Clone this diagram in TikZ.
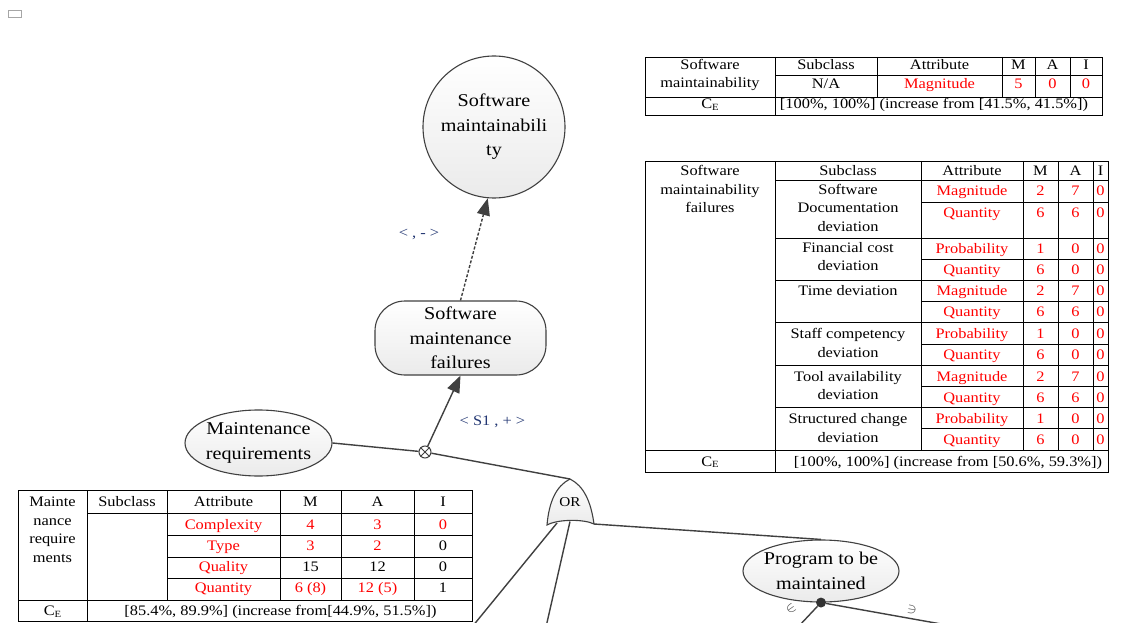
\documentclass[tikz,border=0pt]{standalone}
\usepackage{fontspec}
\setmainfont{Liberation Serif}
\newfontfamily\tabfont[FakeStretch=1.13]{Liberation Serif}
\newfontfamily\nodefont[FakeStretch=1.12]{Liberation Serif}
\usetikzlibrary{arrows.meta,shapes.geometric}
\definecolor{edgecol}{RGB}{64,64,64}
\definecolor{lblcol}{RGB}{35,55,115}
\definecolor{tred}{RGB}{255,0,0}
\newcommand{\tcell}[4][black]{\node[tb,text=#1] (#2) at (#3) {#4};}
\newcommand{\CE}{C\raisebox{-1.5pt}{\fontsize{9.5}{9.5}\selectfont E}}
\tikzset{
  conc/.style={draw=edgecol, line width=1.1pt, top color=white, bottom color=gray!16,
    font=\nodefont\fontsize{18}{24.5}\selectfont, align=center, text=black},
  tb/.style={font=\tabfont\fontsize{14.5}{18}\selectfont, inner sep=0pt, anchor=base},
  tline/.style={draw=black, line width=0.8pt},
  conn/.style={draw=edgecol, line width=1.4pt},
  arr/.style={-{Triangle[length=17pt,width=13pt,fill=edgecol]}},
  lbl/.style={font=\tabfont\fontsize{14.5}{18}\selectfont, text=lblcol, inner sep=0pt, anchor=base},
}
\begin{document}
\begin{tikzpicture}[x=1pt,y=-1pt]
\useasboundingbox[fill=white] (0,0) rectangle (1128,623);
\draw[gray!70, line width=0.6pt] (8.5,10.5) rectangle (21.5,17.5);

% concept nodes
\node[conc, circle, minimum size=142pt, inner sep=0pt] (sm) at (494,127) {Software\\maintainabili\\ty};
\node[conc, rectangle, rounded corners=30pt, minimum width=171pt, minimum height=74pt, inner sep=0pt] (smf) at (460.5,338) {Software\\maintenance\\failures};
\node[conc, ellipse, minimum width=147pt, minimum height=66pt, inner sep=0pt, inner xsep=-3pt] (mr) at (258.5,443) {Maintenance\\requirements};
\node[conc, ellipse, minimum width=156pt, minimum height=62pt, inner sep=0pt, inner xsep=-3pt] (pm) at (821,571) {Program to be\\maintained};

% cross node
\node[draw=edgecol, line width=1pt, circle, minimum size=12pt, inner sep=0pt, fill=white] (ox) at (425,452) {};
\draw[edgecol, line width=0.9pt] (ox.north west) -- (ox.south east) (ox.north east) -- (ox.south west);

% OR gate
\coordinate (orapex) at (570,479);
\coordinate (orbl) at (547,525);
\coordinate (orbr) at (594,524);
\coordinate (orb1) at (557,523);
\coordinate (orb2) at (570,521.5);
\coordinate (e1) at (472,627);
\coordinate (e2) at (546,627);
\coordinate (e3) at (798,627);
\coordinate (e4) at (958,627);

% connectors
\draw[conn, dash pattern=on 3pt off 1.8pt, arr] (smf.north) -- (sm.-95);
\draw[conn, arr] (ox) -- (smf.south);
\draw[conn] (mr.east) -- (ox);
\draw[conn] (ox) -- (orapex);
\draw[conn] (orbr) -- (pm.north);
\draw[conn] (orb1) -- (e1);
\draw[conn] (orb2) -- (e2);

\draw[edgecol, line width=1.1pt, top color=white, bottom color=gray!16]
  (orbl) .. controls (549,502) and (556,486) .. (orapex)
  .. controls (584,486) and (591,502) .. (orbr)
  .. controls (584,519) and (558,519) .. (orbl) -- cycle;
\node[font=\tabfont\fontsize{13.5}{16}\selectfont, inner sep=0pt] (ortext) at (570,502) {OR};

\node[circle, fill=edgecol!80!black, inner sep=0pt, minimum size=10pt] (pd) at (pm.south) {};
\draw[conn] (pd) -- (e3);
\draw[conn] (pd) -- (e4);
\node[rotate=35, inner sep=0pt, font=\fontsize{14}{14}\selectfont, text=edgecol] (s1) at (791,609) {$\in$};
\node[rotate=-10, inner sep=0pt, font=\fontsize{14}{14}\selectfont, text=edgecol] (s2) at (912,610) {$\ni$};

% labels
\node[lbl] (l1) at (419,237) {< , - >};
\node[lbl] (l2) at (492.5,425.5) {< S1 , + >};

% ---------- table 1 ----------
\draw[tline] (645,57) rectangle (1102,115);
\draw[tline] (775,75) -- (1102,75);
\draw[tline] (645,97) -- (1102,97);
\draw[tline] (775,57) -- (775,115);
\foreach \x in {877,1002,1035,1070} \draw[tline] (\x,57) -- (\x,97);
\tcell{aA}{710,70}{Software}
\tcell{aB}{710,88}{maintainability}
\tcell{aC}{826,70}{Subclass}
\tcell{aD}{939.5,70}{Attribute}
\tcell{aE}{1018.5,70}{M}
\tcell{aF}{1052.5,70}{A}
\tcell{aG}{1086,70}{I}
\tcell{aH}{826,89}{N/A}
\tcell[tred]{aI}{939.5,89}{Magnitude}
\tcell[tred]{aJ}{1018.5,89}{5}
\tcell[tred]{aK}{1052.5,89}{0}
\tcell[tred]{aL}{1086,89}{0}
\tcell{aM}{710,109}{\CE}
\tcell{aN}{934,109}{[100\%, 100\%] (increase from [41.5\%, 41.5\%])}

% ---------- table 2 ----------
\draw[tline] (645,161) rectangle (1108,472);
\draw[tline] (645,450) -- (1108,450);
\draw[tline] (775,161) -- (775,472);
\foreach \x in {921,1023,1058,1093} \draw[tline] (\x,161) -- (\x,450);
\foreach \y in {180,238,280,322,365,407} \draw[tline] (775,\y) -- (1108,\y);
\foreach \y in {202,259,301,344,386,428} \draw[tline] (921,\y) -- (1108,\y);
\tcell{bA}{710,176}{Software}
\tcell{bB}{710,194}{maintainability}
\tcell{bC}{710,212}{failures}
\tcell{bD}{848,176}{Subclass}
\tcell{bE}{972,176}{Attribute}
\tcell{bF}{1040.5,176}{M}
\tcell{bG}{1075.5,176}{A}
\tcell{bH}{1100.5,176}{I}
\foreach \yy/\at/\m/\a/\i [count=\k] in {196/Magnitude/2/7/0, 218/Quantity/6/6/0,
  253/Probability/1/0/0, 274/Quantity/6/0/0, 295/Magnitude/2/7/0, 316/Quantity/6/6/0,
  338/Probability/1/0/0, 359/Quantity/6/0/0, 381/Magnitude/2/7/0, 402/Quantity/6/6/0,
  423/Probability/1/0/0, 444/Quantity/6/0/0}
{
  \node[tb,text=tred] (bat\k) at (972,\yy) {\at};
  \node[tb,text=tred] (bm\k) at (1040.5,\yy) {\m};
  \node[tb,text=tred] (ba\k) at (1075.5,\yy) {\a};
  \node[tb,text=tred] (bi\k) at (1100.5,\yy) {\i};
}
\foreach \yy/\t [count=\k] in {195/Software, 213/Documentation, 232/deviation,
  252/Financial cost, 270/deviation, 295/Time deviation, 338/Staff competency,
  357/deviation, 381/Tool availability, 399/deviation, 423/Structured change, 442/deviation}
{
  \node[tb] (bs\k) at (848,\yy) {\t};
}
\tcell{bCE}{710,466}{\CE}
\tcell{bCV}{948,466}{[100\%, 100\%] (increase from [50.6\%, 59.3\%])}

% ---------- table 3 ----------
\draw[tline] (18,490) rectangle (472,621);
\draw[tline] (87,513) -- (472,513);
\foreach \y in {535,557,578} \draw[tline] (167,\y) -- (472,\y);
\draw[tline] (18,600) -- (472,600);
\draw[tline] (87,490) -- (87,621);
\foreach \x in {167,280,341,414} \draw[tline] (\x,490) -- (\x,600);
\tcell{cA}{52.5,506}{Mainte}
\tcell{cB}{52.5,525}{nance}
\tcell{cC}{52.5,543.5}{require}
\tcell{cD}{52.5,562}{ments}
\tcell{cE}{127,506}{Subclass}
\tcell{cF}{223.5,506}{Attribute}
\tcell{cG}{310.5,506}{M}
\tcell{cH}{377.5,506}{A}
\tcell{cI}{443,506}{I}
\tcell[tred]{cJ}{223.5,529}{Complexity}
\tcell[tred]{cK}{310.5,529}{4}
\tcell[tred]{cL}{377.5,529}{3}
\tcell[tred]{cM}{443,529}{0}
\tcell[tred]{cN}{223.5,550}{Type}
\tcell[tred]{cO}{310.5,550}{3}
\tcell[tred]{cP}{377.5,550}{2}
\tcell{cQ}{443,550}{0}
\tcell[tred]{cR}{223.5,571}{Quality}
\tcell{cS}{310.5,571}{15}
\tcell{cT}{377.5,571}{12}
\tcell{cU}{443,571}{0}
\tcell[tred]{cV}{223.5,592}{Quantity}
\tcell[tred]{cW}{310.5,592}{6 (8)}
\tcell[tred]{cX}{377.5,592}{12 (5)}
\tcell{cY}{443,592}{1}
\tcell{cZ}{52.5,615.5}{\CE}
\tcell{cCV}{280.5,615.5}{[85.4\%, 89.9\%] (increase from[44.9\%, 51.5\%])}
\end{tikzpicture}
\end{document}
